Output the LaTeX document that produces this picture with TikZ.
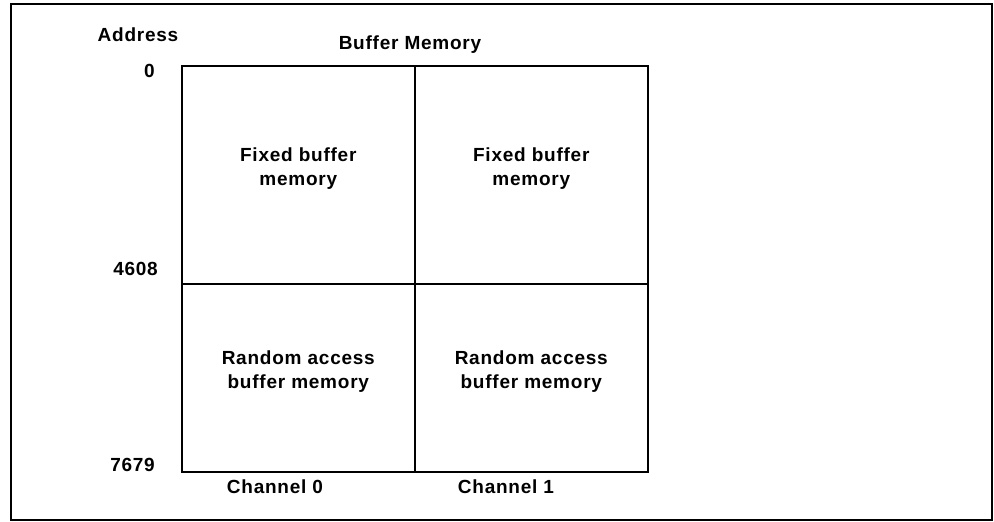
\documentclass[tikz,border=0pt]{standalone}
\usepackage{fontspec}
\setmainfont{Liberation Sans}[LetterSpace=4]
\begin{document}
\begin{tikzpicture}[x=1pt,y=-1pt,
  lbl/.style={font=\fontsize{19}{24}\selectfont\bfseries, inner sep=0pt, align=center},
  cell/.style={draw, line width=1.6pt, minimum width=233pt, anchor=north west, inner sep=0pt},
  frame/.style={draw, line width=2pt}]
\useasboundingbox (0,0) rectangle (994,522);
\draw[frame] (11,4) rectangle (992,520);
\node[cell, minimum height=218pt] (f0) at (181,65) {};
\node[cell, minimum height=218pt] (f1) at (414,65) {};
\node[cell, minimum height=188pt] (r0) at (181,283) {};
\node[cell, minimum height=188pt] (r1) at (414,283) {};
\node[lbl] (tf0) at ([yshift=6pt]f0.center) {Fixed buffer\\memory};
\node[lbl] (tf1) at ([yshift=6pt]f1.center) {Fixed buffer\\memory};
\node[lbl] (tr0) at ([yshift=6pt]r0.center) {Random access\\buffer memory};
\node[lbl] (tr1) at ([yshift=6pt]r1.center) {Random access\\buffer memory};
\node[lbl] (addr) at (138,35) {Address};
\node[lbl] (bm) at (410,45) {Buffer Memory};
\node[lbl, anchor=east] (a0) at (155,71) {0};
\node[lbl, anchor=east] (a1) at (158,269) {4608};
\node[lbl, anchor=east] (a2) at (155,465) {7679};
\node[lbl] (c0) at (275,487) {Channel 0};
\node[lbl] (c1) at (506,487) {Channel 1};
\end{tikzpicture}
\end{document}
